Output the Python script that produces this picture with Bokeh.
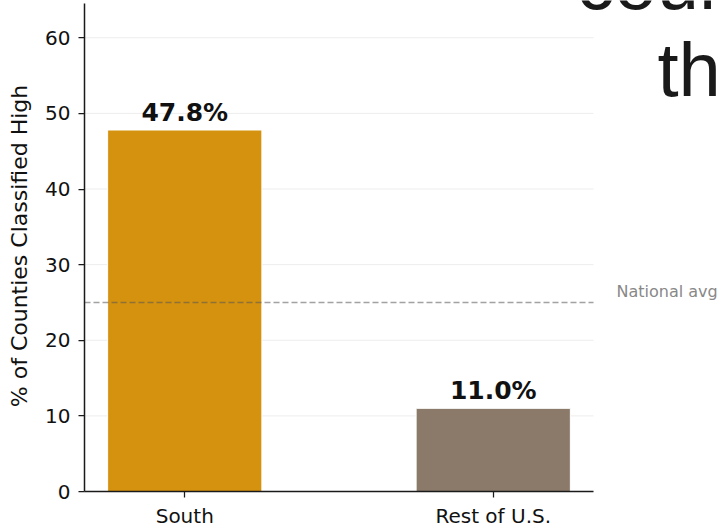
from bokeh.plotting import figure
from bokeh.models import Range1d, FixedTicker, Label, ColumnDataSource
from bokeh.core.properties import value
from bokeh.embed import file_html
from bokeh.resources import INLINE

# ---- data ----
categories = ["South", "Rest of U.S."]
pct_high = [47.8, 11.0]
bar_colors = ["#D4920F", "#8B7A6A"]
national_avg = 25.0
y_ticks = [0, 10, 20, 30, 40, 50, 60]
title_fragments = ["cour", "th"]

# ---- layout ----
W, H = 721, 530
left_px, axes_w_px, bottom_px = 84, 509, 38
bar_w = 0.5
idx = list(range(len(categories)))
extent = (len(categories) - 1) + bar_w
x_start = -bar_w / 2 - 0.05 * extent
x_end = (len(categories) - 1) + bar_w / 2 + 0.05 * extent
frame_w = W - left_px
x_view_end = x_start + (x_end - x_start) * frame_w / axes_w_px
y_end = max(pct_high) * 1.35
frame_h = H - bottom_px
y_view_end = y_end * frame_h / (frame_h - 3)

p = figure(width=W, height=H, output_backend="svg", toolbar_location=None,
           title=None, x_range=Range1d(x_start, x_view_end), y_range=Range1d(0, y_view_end),
           min_border_left=left_px, min_border_right=0, min_border_top=0,
           min_border_bottom=bottom_px)
p.outline_line_color = None
p.background_fill_color = "white"
p.border_fill_color = "white"
p.xgrid.grid_line_color = None
p.ygrid.grid_line_color = None

# grid lines limited to the axes area
grid = p.segment(x0=[x_start] * len(y_ticks), x1=[x_end] * len(y_ticks),
                 y0=y_ticks, y1=y_ticks, line_color="#EDEDED", line_width=1)
grid.level = "underlay"

src = ColumnDataSource(dict(x=idx, top=pct_high, color=bar_colors,
                            label=[f"{v:.1f}%" for v in pct_high]))
p.vbar(x="x", top="top", width=bar_w, bottom=0, fill_color="color",
       line_color="white", line_width=1, source=src)

p.segment(x0=[x_start], x1=[x_end], y0=[national_avg], y1=[national_avg],
          line_color="#555555", line_alpha=0.55, line_width=1.5, line_dash="6 3")

p.text(x="x", y="top", text="label", source=src, text_align="center",
       text_baseline="alphabetic", y_offset=-18, text_font=value("DejaVu Sans"),
       text_font_style="bold", text_font_size="25px", text_color="#111111")

p.add_layout(Label(x=x_end, y=national_avg, x_offset=23, y_offset=11,
                   text="National avg", text_font="DejaVu Sans",
                   text_font_size="16px", text_color="#888888",
                   text_baseline="middle", text_align="left"))

# oversize title fragments (cropped by the page edge, as in the reference)
p.add_layout(Label(x=x_end, y=y_end, x_offset=-17, y_offset=21, text=title_fragments[0],
                   text_font="Liberation Sans", text_font_size="76px",
                   text_color="#1A1A1A", text_baseline="alphabetic", text_align="left"))
p.add_layout(Label(x=x_end, y=y_end, x_offset=64, y_offset=-66, text=title_fragments[1],
                   text_font="Liberation Sans", text_font_size="76px",
                   text_color="#1A1A1A", text_baseline="alphabetic", text_align="left"))

# axes
for ax in (p.xaxis[0], p.yaxis[0]):
    ax.axis_line_color = "#1A1A1A"
    ax.axis_line_width = 1.5
    ax.major_tick_line_color = "#1A1A1A"
    ax.major_tick_line_width = 1.25
    ax.major_tick_in = 0
    ax.major_tick_out = 6
    ax.minor_tick_line_color = None
    ax.major_label_text_font = "DejaVu Sans"
    ax.major_label_text_font_size = "20px"
    ax.major_label_text_color = "#111111"

p.xaxis.bounds = (x_start, x_end)
p.yaxis.bounds = (0, y_end)
p.xaxis.ticker = FixedTicker(ticks=idx)
p.xaxis.major_label_overrides = {i: c for i, c in zip(idx, categories)}
p.xaxis.major_label_standoff = 6
p.yaxis.ticker = FixedTicker(ticks=y_ticks)
p.yaxis.major_label_standoff = 8
p.yaxis.axis_label = "% of Counties Classified High"
p.yaxis.axis_label_text_font = "DejaVu Sans"
p.yaxis.axis_label_text_font_size = "22px"
p.yaxis.axis_label_text_font_style = "normal"
p.yaxis.axis_label_text_color = "#111111"
p.yaxis.axis_label_standoff = 10

open("out.html", "w").write(file_html(p, INLINE))
